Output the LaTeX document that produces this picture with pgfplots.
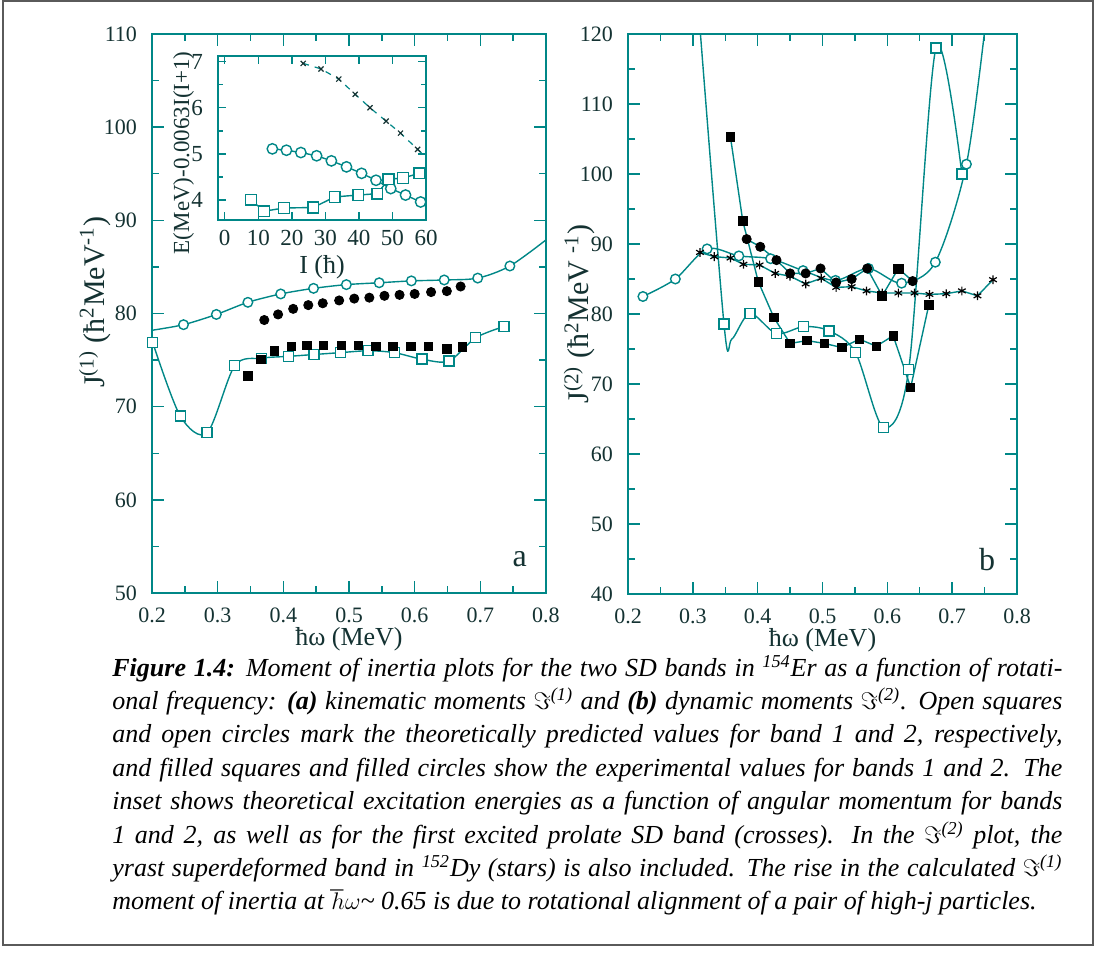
\documentclass[border=0pt]{standalone}
\usepackage{fontspec}
\setmainfont{Liberation Serif}
\usepackage{pgfplots}
\pgfplotsset{compat=1.18}
\definecolor{tl}{RGB}{0,135,135}
\definecolor{txt}{RGB}{20,50,50}
\definecolor{frm}{RGB}{90,90,90}
\pgfplotsset{
  base/.style={scale only axis, axis line style={tl, line width=0.7pt},
    every tick/.style={tl, line width=0.7pt}, major tick length=6pt, minor tick length=3.5pt,
    tick label style={font=\fontsize{11}{12}\selectfont, text=txt},
    /pgf/number format/assume math mode=true,
    xticklabel style={yshift=-4pt}, yticklabel style={xshift=-4pt}},
  thline/.style={tl, line width=0.7pt, smooth, mark=none},
  exline/.style={tl, line width=0.7pt, mark=none},
  osq/.style={only marks, mark=square*, mark size=2.5pt, mark options={draw=tl, fill=white, line width=0.7pt}},
  oci/.style={only marks, mark=*, mark size=2.4pt, mark options={draw=tl, fill=white, line width=0.7pt}},
  fsq/.style={only marks, mark=square*, mark size=2.1pt, mark options={draw=black, fill=black}},
  fci/.style={only marks, mark=*, mark size=2.3pt, mark options={draw=black, fill=black}},
}
\begin{document}
\begin{tikzpicture}
\path (0pt,0pt) rectangle (548pt,485pt);
\draw[frm, line width=1pt] (1.5pt,12.5pt) rectangle (546.5pt,484.5pt);
% ---------------- panel a
\begin{axis}[base, at={(76pt,188.5pt)}, anchor=south west, width=197pt, height=279.5pt,
  xmin=0.2, xmax=0.8, ymin=50, ymax=110,
  xtick={0.2,0.3,0.4,0.5,0.6,0.7,0.8}, xticklabels={0.2,0.3,0.4,0.5,0.6,0.7,0.8},
  minor xtick={0.25,0.35,0.45,0.55,0.65,0.75},
  ytick={50,60,70,80,90,100,110}, minor ytick={55,65,75,85,95,105},
  xlabel={ħω (MeV)}, ylabel={J\textsuperscript{(1)} (ħ\textsuperscript{2}MeV\textsuperscript{-1})},
  xlabel style={at={(axis description cs:0.5,-0.083)}, anchor=center, inner sep=0pt, font=\fontsize{13}{15}\selectfont, text=txt},
  ylabel style={at={(axis description cs:-0.145,0.52)}, anchor=center, font=\fontsize{15}{17}\selectfont, text=txt},
]
\addplot[thline] coordinates {(0.201,76.9) (0.243,69.0) (0.284,67.2) (0.326,74.4) (0.367,75.2) (0.408,75.4) (0.447,75.6) (0.487,75.8) (0.529,76.0) (0.569,75.8) (0.611,75.1) (0.652,74.9) (0.693,77.4) (0.736,78.6)};
\addplot[osq] coordinates {(0.201,76.9) (0.243,69.0) (0.284,67.2) (0.326,74.4) (0.367,75.2) (0.408,75.4) (0.447,75.6) (0.487,75.8) (0.529,76.0) (0.569,75.8) (0.611,75.1) (0.652,74.9) (0.693,77.4) (0.736,78.6)};
\addplot[thline] coordinates {(0.2,78.2) (0.248,78.8) (0.298,79.9) (0.346,81.2) (0.396,82.1) (0.446,82.7) (0.496,83.1) (0.546,83.3) (0.595,83.5) (0.645,83.6) (0.696,83.8) (0.745,85.1) (0.80,87.9)};
\addplot[oci] coordinates {(0.248,78.8) (0.298,79.9) (0.346,81.2) (0.396,82.1) (0.446,82.7) (0.496,83.1) (0.546,83.3) (0.595,83.5) (0.645,83.6) (0.696,83.8) (0.745,85.1)};
\addplot[fci] coordinates {(0.371,79.3) (0.392,79.9) (0.415,80.5) (0.438,80.9) (0.460,81.1) (0.485,81.4) (0.508,81.6) (0.531,81.7) (0.554,81.9) (0.577,82.0) (0.600,82.1) (0.625,82.3) (0.649,82.4) (0.670,82.9)};
\addplot[fsq] coordinates {(0.346,73.3) (0.366,75.1) (0.386,76.0) (0.412,76.5) (0.436,76.6) (0.461,76.6) (0.488,76.6) (0.514,76.6) (0.541,76.5) (0.567,76.5) (0.594,76.5) (0.621,76.5) (0.649,76.2) (0.673,76.4)};
\node[text=txt, font=\fontsize{16}{18}\selectfont] at (axis cs:0.760,53.6) {a};
\end{axis}
% ---------------- inset
\begin{axis}[base, at={(109pt,375pt)}, anchor=south west, width=104pt, height=82pt,
  axis background/.style={fill=white},
  major tick length=4pt, minor tick length=2.5pt,
  xmin=-2, xmax=60, ymin=3.57, ymax=7.12,
  xtick={0,10,20,30,40,50,60}, ytick={4,5,6,7}, minor ytick={4.5,5.5,6.5},
  tick label style={font=\fontsize{11.5}{12}\selectfont, text=txt},
  xticklabel style={yshift=0pt, inner sep=1pt}, yticklabel style={xshift=0pt},
  xlabel={I (ħ)}, ylabel={E(MeV)-0.0063I(I+1)},
  xlabel style={at={(axis description cs:0.5,-0.29)}, anchor=center, inner sep=0pt, font=\fontsize{13}{15}\selectfont, text=txt},
  ylabel style={at={(axis description cs:-0.165,0.41)}, anchor=center, font=\fontsize{11.5}{13}\selectfont, text=txt},
]
\addplot[tl, line width=0.6pt, dashed, mark=none] coordinates {(23.4,6.96) (28.7,6.84) (34.0,6.62) (38.9,6.29) (43.3,6.0) (48.1,5.71) (52.4,5.45) (57.5,5.10) (60,4.93)};
\addplot[only marks, mark=x, mark size=1.8pt, mark options={draw=txt, line width=0.6pt}] coordinates {(23.4,6.96) (28.7,6.84) (34.0,6.62) (38.9,6.29) (43.3,6.0) (48.1,5.71) (52.4,5.45) (57.5,5.10)};
\addplot[exline] coordinates {(14.2,5.11) (18.4,5.08) (22.7,5.03) (27.4,4.96) (31.8,4.85) (36.3,4.72) (40.8,4.58) (45.1,4.43) (49.5,4.25) (53.9,4.11) (58.4,3.96)};
\addplot[oci, mark size=2.6pt] coordinates {(14.2,5.11) (18.4,5.08) (22.7,5.03) (27.4,4.96) (31.8,4.85) (36.3,4.72) (40.8,4.58) (45.1,4.43) (49.5,4.25) (53.9,4.11) (58.4,3.96)};
\addplot[exline] coordinates {(7.8,4.01) (11.7,3.76) (17.7,3.83) (26.4,3.84) (32.8,4.07) (39.8,4.11) (45.5,4.14) (48.8,4.45) (53.2,4.48) (58.0,4.58)};
\addplot[osq, mark size=2.7pt] coordinates {(7.8,4.01) (11.7,3.76) (17.7,3.83) (26.4,3.84) (32.8,4.07) (39.8,4.11) (45.5,4.14) (48.8,4.45) (53.2,4.48) (58.0,4.58)};
\end{axis}
% ---------------- panel b
\begin{axis}[base, at={(314pt,188pt)}, anchor=south west, width=194.5pt, height=280pt,
  xmin=0.2, xmax=0.8, ymin=40, ymax=120,
  xtick={0.2,0.3,0.4,0.5,0.6,0.7,0.8}, xticklabels={0.2,0.3,0.4,0.5,0.6,0.7,0.8},
  minor xtick={0.25,0.35,0.45,0.55,0.65,0.75},
  ytick={40,50,60,70,80,90,100,110,120}, minor ytick={45,55,65,75,85,95,105,115},
  xlabel={ħω (MeV)}, ylabel={J\textsuperscript{(2)} (ħ\textsuperscript{2}MeV \textsuperscript{-1})},
  xlabel style={at={(axis description cs:0.5,-0.083)}, anchor=center, inner sep=0pt, font=\fontsize{13}{15}\selectfont, text=txt},
  ylabel style={at={(axis description cs:-0.125,0.5)}, anchor=center, font=\fontsize{15}{17}\selectfont, text=txt},
]
\addplot[thline] coordinates {(0.305,128) (0.348,78.6) (0.36,76.4) (0.388,80.1) (0.429,77.2) (0.471,78.2) (0.510,77.6) (0.551,74.5) (0.594,63.8) (0.633,72.1) (0.675,118.0) (0.715,100.0)};
\addplot[thline] coordinates {(0.223,82.5) (0.273,85.0) (0.322,89.3) (0.371,88.3) (0.42,87.9) (0.47,86.2) (0.52,84.8) (0.571,86.5) (0.622,84.4) (0.674,87.4) (0.722,101.4) (0.752,122)};
\addplot[exline] coordinates {(0.311,88.8) (0.333,88.2) (0.358,88.0) (0.378,87.1) (0.403,87.0) (0.427,85.8) (0.450,85.4) (0.474,84.3) (0.498,85.1) (0.521,83.8) (0.545,83.9) (0.568,83.3) (0.592,83.0) (0.617,83.0) (0.642,83.0) (0.665,82.8) (0.691,82.9) (0.715,83.3) (0.739,82.6) (0.763,84.9)};
\addplot[exline] coordinates {(0.358,105.3) (0.377,93.3) (0.401,84.6) (0.425,79.5) (0.450,75.8) (0.476,76.2) (0.503,75.8) (0.530,75.2) (0.557,76.4) (0.583,75.4) (0.609,76.9) (0.636,69.5) (0.664,81.3)};
\addplot[exline] coordinates {(0.383,90.7) (0.404,89.6) (0.429,87.7) (0.450,85.8) (0.474,85.8) (0.497,86.5) (0.521,84.5) (0.545,85.0) (0.569,86.5) (0.592,82.6) (0.617,86.5) (0.639,84.7)};
\addplot[osq] coordinates {(0.348,78.6) (0.388,80.1) (0.429,77.2) (0.471,78.2) (0.510,77.6) (0.551,74.5) (0.594,63.8) (0.633,72.1) (0.675,118.0) (0.715,100.0)};
\addplot[oci] coordinates {(0.223,82.5) (0.273,85.0) (0.322,89.3) (0.371,88.3) (0.42,87.9) (0.47,86.2) (0.52,84.8) (0.571,86.5) (0.622,84.4) (0.674,87.4) (0.722,101.4)};
\addplot[only marks, mark=asterisk, mark size=2.2pt, mark options={draw=black, line width=0.6pt}] coordinates {(0.311,88.8) (0.333,88.2) (0.358,88.0) (0.378,87.1) (0.403,87.0) (0.427,85.8) (0.450,85.4) (0.474,84.3) (0.498,85.1) (0.521,83.8) (0.545,83.9) (0.568,83.3) (0.592,83.0) (0.617,83.0) (0.642,83.0) (0.665,82.8) (0.691,82.9) (0.715,83.3) (0.739,82.6) (0.763,84.9)};
\addplot[fsq] coordinates {(0.358,105.3) (0.377,93.3) (0.401,84.6) (0.425,79.5) (0.450,75.8) (0.476,76.2) (0.503,75.8) (0.530,75.2) (0.557,76.4) (0.583,75.4) (0.609,76.9) (0.636,69.5) (0.664,81.3)};
\addplot[fci] coordinates {(0.383,90.7) (0.404,89.6) (0.429,87.7) (0.450,85.8) (0.474,85.8) (0.497,86.5) (0.521,84.5) (0.545,85.0) (0.569,86.5) (0.639,84.7)};
\addplot[fsq, mark size=2.3pt] coordinates {(0.592,82.6) (0.617,86.5)};
\node[text=txt, font=\fontsize{16}{18}\selectfont] at (axis cs:0.754,44.9) {b};
\end{axis}
% ---------------- caption
\node[anchor=base west, inner sep=0pt] at (56pt,147pt) {\parbox[t]{475pt}{\fontsize{13}{16.7}\selectfont\itshape\baselineskip=16.7pt
\hbox to 475pt{\textbf{Figure 1.4:} Moment of inertia plots for the two SD bands in \textsuperscript{154}Er as a function of rotati-}
\hbox to 475pt{onal frequency: \textbf{(a)} kinematic moments $\Im$\textsuperscript{(1)} and \textbf{(b)} dynamic moments $\Im$\textsuperscript{(2)}. Open squares}
\hbox to 475pt{and open circles mark the theoretically predicted values for band 1 and 2, respectively,}
\hbox to 475pt{and filled squares and filled circles show the experimental values for bands 1 and 2. The}
\hbox to 475pt{inset shows theoretical excitation energies as a function of angular momentum for bands}
\hbox to 475pt{1 and 2, as well as for the first excited prolate SD band (crosses). In the $\Im$\textsuperscript{(2)} plot, the}
\hbox to 475pt{yrast superdeformed band in \textsuperscript{152}Dy (stars) is also included. The rise in the calculated $\Im$\textsuperscript{(1)}}
\hbox{moment of inertia at $\hbar\omega$\textasciitilde{} 0.65 is due to rotational alignment of a pair of high-j particles.}
}};
\end{tikzpicture}
\end{document}
